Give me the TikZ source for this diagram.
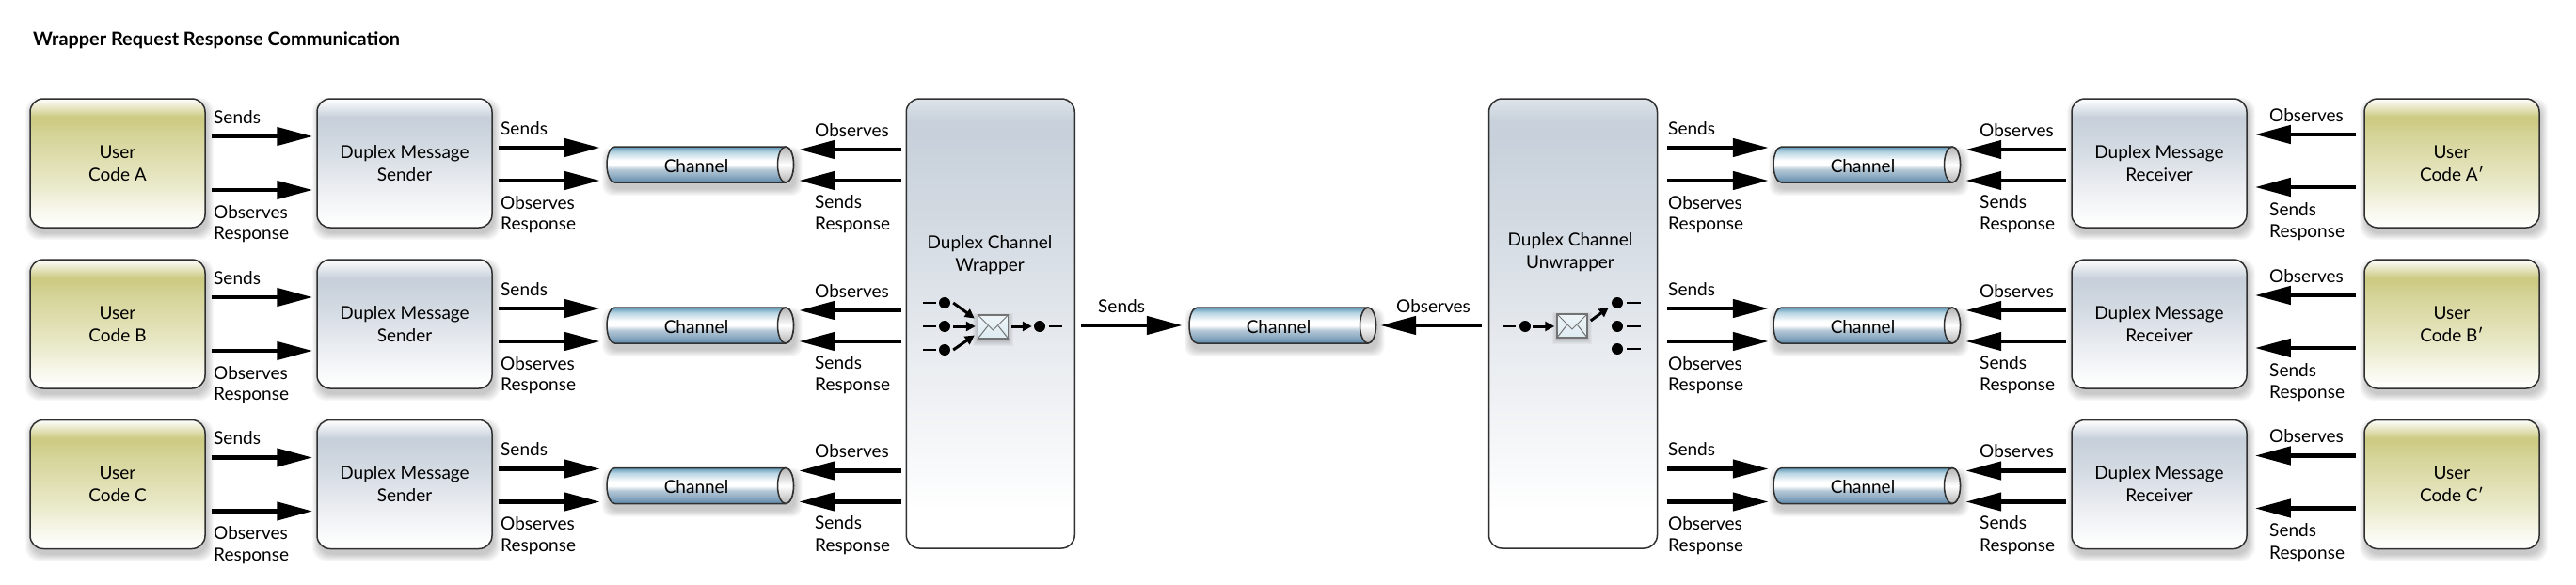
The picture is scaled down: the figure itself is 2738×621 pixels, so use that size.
\documentclass[tikz,border=0pt]{standalone}
\usepackage{fontspec}
\setmainfont{Lato}
\usetikzlibrary{calc,arrows.meta}
\definecolor{usrc}{HTML}{CDCB84}
\definecolor{usrd}{HTML}{E9E9C9}
\definecolor{grc}{HTML}{C8D1DB}
\definecolor{grd}{HTML}{E9ECF0}
\definecolor{chA}{HTML}{5F97B5}
\definecolor{chB}{HTML}{B5D3E1}
\definecolor{chC}{HTML}{B4C7D6}
\definecolor{chD}{HTML}{5F89AA}
\definecolor{edge}{HTML}{303030}
\pgfdeclareverticalshading{usrshade}{100bp}{color(0bp)=(white); color(25bp)=(white); color(31bp)=(white!70!usrd); color(42bp)=(usrd); color(62bp)=(usrc!75!usrd); color(66bp)=(usrc); color(68bp)=(usrc); color(75bp)=(white); color(100bp)=(white)}
\pgfdeclareverticalshading{grshade}{100bp}{color(0bp)=(white); color(25bp)=(white); color(31bp)=(white!70!grd); color(42bp)=(grd); color(58bp)=(grc!75!grd); color(66bp)=(grc); color(68bp)=(grc); color(75bp)=(white); color(100bp)=(white)}
\pgfdeclareverticalshading{wrapshade}{100bp}{color(0bp)=(white); color(25bp)=(white); color(29bp)=(white); color(46bp)=(grd); color(62bp)=(grc!70!grd); color(71bp)=(grc); color(72.5bp)=(grc); color(75bp)=(white!40!grc); color(100bp)=(white)}
\pgfdeclareverticalshading{chshade}{100bp}{color(0bp)=(chD); color(25bp)=(chD); color(35bp)=(chD!40!chC); color(43bp)=(chC); color(50bp)=(white); color(56bp)=(white); color(68bp)=(chB); color(75bp)=(chA); color(100bp)=(chA)}
\pgfdeclareverticalshading{endshade}{100bp}{color(0bp)=(black!30); color(25bp)=(black!30); color(50bp)=(white); color(75bp)=(black!30); color(100bp)=(black!30)}
\newcounter{lbl}
\tikzset{
  boxbase/.style={draw=edge,line width=1.5pt,rounded corners=14pt,align=center,inner sep=0pt,minimum height=137pt},
  usrbox/.style={boxbase,shading=usrshade,minimum width=186pt},
  grbox/.style={boxbase,shading=grshade,minimum width=186pt},
  wrapbox/.style={boxbase,shading=wrapshade,minimum width=179pt,minimum height=478pt},
  flow/.style={line width=4.5pt,-{Triangle[length=38pt,width=19pt]}},
  miniflow/.style={line width=3pt,shorten >=0pt,-{Triangle[length=10pt,width=10pt]}},
  lblnode/.style={anchor=west,inner sep=0pt,align=left},
  chanlabel/.style={inner sep=0pt,minimum width=194pt,minimum height=38pt},
  dotnode/.style={circle,fill=black,inner sep=0pt,minimum size=12pt},
  envnode/.style={draw=black!55,line width=1.5pt,inner sep=0pt,minimum width=32pt,minimum height=25pt,top color=white!75!chB,bottom color=white!55!chB},
  envline/.style={draw=black!55,line width=1pt},
  dashline/.style={line width=2.5pt}
}
\newcommand{\softshade}[4]{%
  \foreach \i in {0,...,7}{\fill[black,opacity=.028,rounded corners=14pt] ({#1-#3/2-\i+2},{#2-#4/2-\i+6}) rectangle ({#1+#3/2+\i+2},{#2+#4/2+\i+6});}}
\newcommand{\lab}[3]{\stepcounter{lbl}\node[lblnode] (lab\thelbl) at (#1,{#2+0.5}) {#3};}
\newcommand{\channel}[3]{%
  \begin{scope}[shift={(#2,#3)}]
    \foreach \i in {0,...,7}{\fill[black,opacity=.028,rounded corners=10pt] ({-97-\i+3},{-19-\i+7}) rectangle ({102.5+\i+2},{19+\i+7});}
    \shade[shading=chshade,draw=edge,line width=1.5pt] (-87.5,-19) -- (94,-19) .. controls (98.7,-19) and (102.5,-10.5) .. (102.5,0) .. controls (102.5,10.5) and (98.7,19) .. (94,19) -- (-87.5,19) .. controls (-92.2,19) and (-96,10.5) .. (-96,0) .. controls (-96,-10.5) and (-92.2,-19) .. (-87.5,-19) -- cycle;
    \shade[shading=endshade,draw=edge,line width=1.5pt] (94,-19) .. controls (98.7,-19) and (102.5,-10.5) .. (102.5,0) .. controls (102.5,10.5) and (98.7,19) .. (94,19) .. controls (89.3,19) and (85.5,10.5) .. (85.5,0) .. controls (85.5,-10.5) and (89.3,-19) .. (94,-19) -- cycle;
    \node[chanlabel] (#1) at (-1,1.5) {\raisebox{-1pt}{Channel}};
  \end{scope}}
\newcommand{\leftrow}[3]{%
  \softshade{125}{173.5+#3}{186}{137}
  \softshade{430}{173.5+#3}{186}{137}
  \node[usrbox] (u#1) at (125,173.5+#3) {User\\Code #2};
  \node[grbox] (s#1) at (430,173.5+#3) {Duplex Message\\Sender};
  \channel{c#1}{741}{175+#3}
  \draw[flow] ($(u#1.east)+(6,-28.5)$) -- ($(s#1.west)+(-4,-28.5)$);
  \draw[flow] ($(u#1.east)+(6,28.5)$) -- ($(s#1.west)+(-4,28.5)$);
  \coordinate (qa#1) at ($(c#1.west)+(-5,-19.5)$);
  \coordinate (qb#1) at ($(c#1.west)+(-5,15.5)$);
  \draw[flow] ([xshift=6pt]s#1.east |- qa#1) -- (qa#1);
  \draw[flow] ([xshift=6pt]s#1.east |- qb#1) -- (qb#1);
  \coordinate (ta#1) at ($(c#1.east)+(12,-17.5)$);
  \coordinate (tb#1) at ($(c#1.east)+(12,15.5)$);
  \draw[flow] ([xshift=-5pt]wrap.west |- ta#1) -- (ta#1);
  \draw[flow] ([xshift=-5pt]wrap.west |- tb#1) -- (tb#1);
  \lab{227}{124+#3}{Sends}
  \lab{227}{225+#3}{Observes}
  \lab{227}{249+#3}{Response}
  \lab{532}{136+#3}{Sends}
  \lab{532}{215+#3}{Observes}
  \lab{532}{239+#3}{Response}
  \lab{866}{138+#3}{Observes}
  \lab{866}{214+#3}{Sends}
  \lab{866}{239+#3}{Response}}
\newcommand{\rightrow}[3]{%
  \softshade{2295}{173.5+#3}{186}{137}
  \softshade{2606}{173.5+#3}{186}{137}
  \node[usrbox] (v#1) at (2606,173.5+#3) {User\\Code #2′};
  \node[grbox] (r#1) at (2295,173.5+#3) {Duplex Message\\Receiver};
  \channel{d#1}{1981}{175+#3}
  \coordinate (pa#1) at ($(d#1.west)+(-3,-19.5)$);
  \coordinate (pb#1) at ($(d#1.west)+(-3,15.5)$);
  \draw[flow] ([xshift=10pt]unwrap.east |- pa#1) -- (pa#1);
  \draw[flow] ([xshift=10pt]unwrap.east |- pb#1) -- (pb#1);
  \coordinate (ma#1) at ($(d#1.east)+(12,-17.5)$);
  \coordinate (mb#1) at ($(d#1.east)+(12,15.5)$);
  \draw[flow] ([xshift=-5pt]r#1.west |- ma#1) -- (ma#1);
  \draw[flow] ([xshift=-5pt]r#1.west |- mb#1) -- (mb#1);
  \draw[flow] ($(v#1.west)+(-8,-30.5)$) -- ($(r#1.east)+(8,-30.5)$);
  \draw[flow] ($(v#1.west)+(-8,25.5)$) -- ($(r#1.east)+(8,25.5)$);
  \lab{1773}{136+#3}{Sends}
  \lab{1773}{215+#3}{Observes}
  \lab{1773}{239+#3}{Response}
  \lab{2104}{138+#3}{Observes}
  \lab{2104}{214+#3}{Sends}
  \lab{2104}{239+#3}{Response}
  \lab{2412}{122+#3}{Observes}
  \lab{2412}{222+#3}{Sends}
  \lab{2412}{247+#3}{Response}}
\begin{document}
\begin{tikzpicture}[x=1pt,y=-1pt,font=\fontsize{19}{24}\selectfont]
\useasboundingbox (0,0) rectangle (2738,621);
\fill[white] (0,0) rectangle (2738,621);
\node[anchor=west,inner sep=0pt,font=\fontsize{19.9}{24}\selectfont\bfseries] (title) at (35,43) {Wrapper Request Response Communication};
% wrappers
\node[wrapbox] (wrap) at (1052.75,344) {};
\node[wrapbox] (unwrap) at (1672,344) {};
\node[align=center,inner sep=0pt] (wraptext) at (1052,271.5) {Duplex Channel\\Wrapper};
\node[align=center,inner sep=0pt] (unwraptext) at (1669,268.5) {Duplex Channel\\Unwrapper};
% rows
\leftrow{A}{A}{0}
\leftrow{B}{B}{171}
\leftrow{C}{C}{341.5}
\rightrow{A}{A}{0}
\rightrow{B}{B}{171}
\rightrow{C}{C}{341.5}
% central channel
\channel{mid}{1360}{346}
\draw[flow] ($(wrap.east)+(6,2)$) -- ($(mid.west)+(-5,-1.5)$);
\draw[flow] ($(unwrap.west)+(-7,2)$) -- ($(mid.east)+(11,-1.5)$);
\lab{1167}{325}{Sends}
\lab{1484}{325}{Observes}
% wrapper icon
\foreach \i in {0,...,5}{\fill[black,opacity=.03] ({1039-\i},{335-\i+3}) rectangle ({1072+\i},{360+\i+3});}
\node[envnode] (e1) at (1055.5,347.5) {};
\draw[envline] (e1.north west) -- (1055.5,351) -- (e1.north east);
\draw[envline] (e1.south west) -- (1050,346.5);
\draw[envline] (e1.south east) -- (1061,346.5);
\node[dotnode] (w1) at (1004,322) {};
\node[dotnode] (w2) at (1004,347) {};
\node[dotnode] (w3) at (1004,372) {};
\node[dotnode] (w4) at (1105,347) {};
\draw[miniflow] ($(w1.east)+(3,0)$) -- ($(e1.west)+(-3,-9)$);
\draw[miniflow] ($(w2.east)+(3,0)$) -- ($(e1.west)+(-2,-0.5)$);
\draw[miniflow] ($(w3.east)+(3,0)$) -- ($(e1.west)+(-3,9)$);
\draw[miniflow] ($(e1.east)+(3,-0.5)$) -- ($(w4.west)+(-2,0)$);
\foreach \n in {w1,w2,w3}{\draw[dashline] ($(\n.west)+(-3,0)$) -- ++(-14,0);}
\draw[dashline] ($(w4.east)+(4,0)$) -- ++(14,0);
% unwrapper icon
\foreach \i in {0,...,5}{\fill[black,opacity=.03] ({1655-\i},{334-\i+3}) rectangle ({1687+\i},{358+\i+3});}
\node[envnode] (e2) at (1671,346.5) {};
\draw[envline] (e2.north west) -- (1671,350) -- (e2.north east);
\draw[envline] (e2.south west) -- (1665.5,345.5);
\draw[envline] (e2.south east) -- (1676.5,345.5);
\node[dotnode] (x1) at (1621,347) {};
\node[dotnode] (x2) at (1719,322) {};
\node[dotnode] (x3) at (1719,347) {};
\node[dotnode] (x4) at (1719,371) {};
\draw[miniflow] ($(x1.east)+(2,0)$) -- ($(e2.west)+(-2,0.5)$);
\draw[miniflow] ($(e2.east)+(3,-5.5)$) -- ($(x2.west)+(-3,5)$);
\foreach \n in {x2,x3,x4}{\draw[dashline] ($(\n.east)+(4,0)$) -- ++(15,0);}
\draw[dashline] ($(x1.west)+(-4,0)$) -- ++(-14,0);
\end{tikzpicture}
\end{document}
